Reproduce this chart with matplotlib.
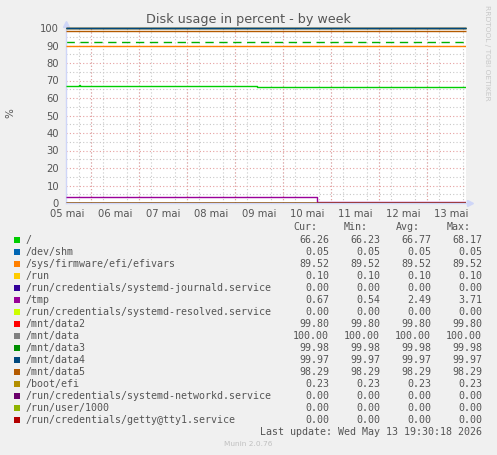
import matplotlib
matplotlib.use("Agg")
import matplotlib.pyplot as plt
import matplotlib.dates as mdates
import matplotlib.ticker as mticker
import pandas as pd
import numpy as np

# ---------------- data ----------------
title = "Disk usage in percent - by week"
x_start = "2026-05-05 11:30"
x_end = "2026-05-13 19:30"
day_labels = ["05 mai", "06 mai", "07 mai", "08 mai", "09 mai", "10 mai", "11 mai", "12 mai", "13 mai"]
day_dates = ["2026-05-05", "2026-05-06", "2026-05-07", "2026-05-08", "2026-05-09",
             "2026-05-10", "2026-05-11", "2026-05-12", "2026-05-13"]
midnights = ["2026-05-06", "2026-05-07", "2026-05-08", "2026-05-09",
             "2026-05-10", "2026-05-11", "2026-05-12", "2026-05-13"]

names = ["/", "/dev/shm", "/sys/firmware/efi/efivars", "/run",
         "/run/credentials/systemd-journald.service", "/tmp",
         "/run/credentials/systemd-resolved.service", "/mnt/data2", "/mnt/data",
         "/mnt/data3", "/mnt/data4", "/mnt/data5", "/boot/efi",
         "/run/credentials/systemd-networkd.service", "/run/user/1000",
         "/run/credentials/getty@tty1.service"]
colors = ["#00CC00", "#0066B3", "#FF8000", "#FFCC00", "#330099", "#990099",
          "#CCFF00", "#FF0000", "#808080", "#008F00", "#00487D", "#B35A00",
          "#B38F00", "#6B006B", "#8FB300", "#B30000"]
cur = ["66.26", "0.05", "89.52", "0.10", "0.00", "0.67", "0.00", "99.80", "100.00",
       "99.98", "99.97", "98.29", "0.23", "0.00", "0.00", "0.00"]
mins = ["66.23", "0.05", "89.52", "0.10", "0.00", "0.54", "0.00", "99.80", "100.00",
        "99.98", "99.97", "98.29", "0.23", "0.00", "0.00", "0.00"]
avgs = ["66.77", "0.05", "89.52", "0.10", "0.00", "2.49", "0.00", "99.80", "100.00",
        "99.98", "99.97", "98.29", "0.23", "0.00", "0.00", "0.00"]
maxs = ["68.17", "0.05", "89.52", "0.10", "0.00", "3.71", "0.00", "99.80", "100.00",
        "99.98", "99.97", "98.29", "0.23", "0.00", "0.00", "0.00"]

# time series (step change points)
root_times = ["2026-05-05 11:30", "2026-05-05 18:00", "2026-05-05 18:30", "2026-05-05 19:00",
              "2026-05-09 11:00", "2026-05-13 19:30"]
root_vals = [66.7, 67.6, 66.8, 67.1, 66.26, 66.26]
tmp_times = ["2026-05-05 11:30", "2026-05-10 16:30", "2026-05-10 17:00", "2026-05-13 19:30"]
tmp_vals = [3.71, 3.71, 0.60, 0.67]
flat_times = ["2026-05-05 11:30", "2026-05-13 19:30"]
flat_vals = [66.26, 0.05, 89.52, 0.10, 0.00, 0.67, 0.00, 99.80, 100.00,
             99.98, 99.97, 98.29, 0.23, 0.00, 0.00, 0.00]
warning_level = 92

# ---------------- figure ----------------
W, H = 497, 455
fig = plt.figure(figsize=(W / 100, H / 100), dpi=100, facecolor="#F0F0F0")
L, R, T, B = 66, 466, 28, 203
ax = fig.add_axes([L / W, 1 - B / H, (R - L) / W, (B - T) / H])
ax.set_facecolor("white")

t0 = pd.Timestamp(x_start)
t1 = pd.Timestamp(x_end)
ax.set_xlim(t0, t1)
ax.set_ylim(0, 100)

# grid
ax.set_axisbelow(True)
ax.yaxis.set_major_locator(mticker.MultipleLocator(10))
ax.yaxis.set_minor_locator(mticker.MultipleLocator(5))
ax.grid(which="minor", axis="y", color="#C8C8C8", linestyle=(0, (1, 2)), linewidth=0.8)
ax.grid(which="major", axis="y", color="#E6A0A0", linestyle=(0, (1, 2)), linewidth=0.8)
ax.xaxis.set_minor_locator(mdates.HourLocator(byhour=[0, 6, 12, 18]))
ax.grid(which="minor", axis="x", color="#C8C8C8", linestyle=(0, (1, 2)), linewidth=0.8)
for m in midnights:
    ax.axvline(pd.Timestamp(m), color="#E6A0A0", linestyle=(0, (1, 2)), linewidth=0.8, zorder=0.6)

ax.set_xticks([pd.Timestamp(d) + pd.Timedelta(hours=12) for d in day_dates])
ax.set_xticklabels(day_labels)

# warning line
ax.axhline(warning_level, color="#00B000", linestyle=(0, (6, 4)), linewidth=1.0, zorder=2)

# series
for i, (n, c) in enumerate(zip(names, colors)):
    if n == "/":
        ts = pd.to_datetime(root_times); vs = root_vals
    elif n == "/tmp":
        ts = pd.to_datetime(tmp_times); vs = tmp_vals
    else:
        ts = pd.to_datetime(flat_times); vs = [flat_vals[i]] * 2
    near_top = max(vs) > 95
    ax.plot(ts, vs, color=c, linewidth=1.0, drawstyle="steps-post", zorder=3 + i * 0.01,
            clip_on=not near_top, solid_capstyle="butt")

# spines / ticks
for s in ["top", "right"]:
    ax.spines[s].set_visible(False)
ax.spines["left"].set_color("#CFD6F8")
ax.spines["bottom"].set_color("#CFD6F8")
ax.spines["left"].set_linewidth(1.0)
ax.spines["bottom"].set_linewidth(1.0)
ax.spines["bottom"].set_zorder(2.5)
ax.tick_params(axis="both", which="both", length=0, colors="#555555", labelsize=7.2)
ax.tick_params(axis="y", pad=5)
ax.tick_params(axis="x", pad=4)
# arrows
ax.plot([0], [1.025], marker="^", color="#CFD6F8", markersize=5, transform=ax.transAxes, clip_on=False)
ax.plot([1.01], [0], marker=">", color="#CFD6F8", markersize=5, transform=ax.transAxes, clip_on=False)

# texts
def fx(px):
    return px / W
def fy(py):
    return 1 - py / H

fig.text(fx(248), fy(19), title, ha="center", va="center", fontsize=9.2, color="#555555")
fig.text(fx(10), fy(113), "%", ha="center", va="center", rotation=90, fontsize=7.5, color="#555555")
fig.text(fx(487), fy(5), "RRDTOOL / TOBI OETIKER", ha="center", va="top", rotation=270,
         fontsize=5.4, color="#C8C8C8")

mono = "DejaVu Sans Mono"
fs = 7.2
tc = "#555555"
hdr_y = 227.5
for lab, xr in zip(["Cur:", "Min:", "Avg:", "Max:"], [317, 368, 420, 471]):
    fig.text(fx(xr), fy(hdr_y), lab, ha="right", va="center", family=mono, fontsize=fs, color=tc)

row0, dy = 240, 11.97
for i in range(len(names)):
    y = row0 + i * dy
    fig.patches.append(plt.Rectangle((fx(14), fy(y + 3)), 6 / W, 6 / H, transform=fig.transFigure,
                                     facecolor=colors[i], edgecolor="none"))
    fig.text(fx(26), fy(y), names[i], ha="left", va="center", family=mono, fontsize=fs, color=tc)
    for val, xr in zip([cur[i], mins[i], avgs[i], maxs[i]], [329, 380, 431, 482]):
        fig.text(fx(xr), fy(y), val, ha="right", va="center", family=mono, fontsize=fs, color=tc)

fig.text(fx(482), fy(431.7), "Last update: Wed May 13 19:30:18 2026", ha="right", va="center",
         family=mono, fontsize=fs, color=tc)
fig.text(fx(248), fy(444), "Munin 2.0.76", ha="center", va="center", fontsize=5.3, color="#C0C0C0")

fig.savefig("out.png", dpi=100, facecolor=fig.get_facecolor())
